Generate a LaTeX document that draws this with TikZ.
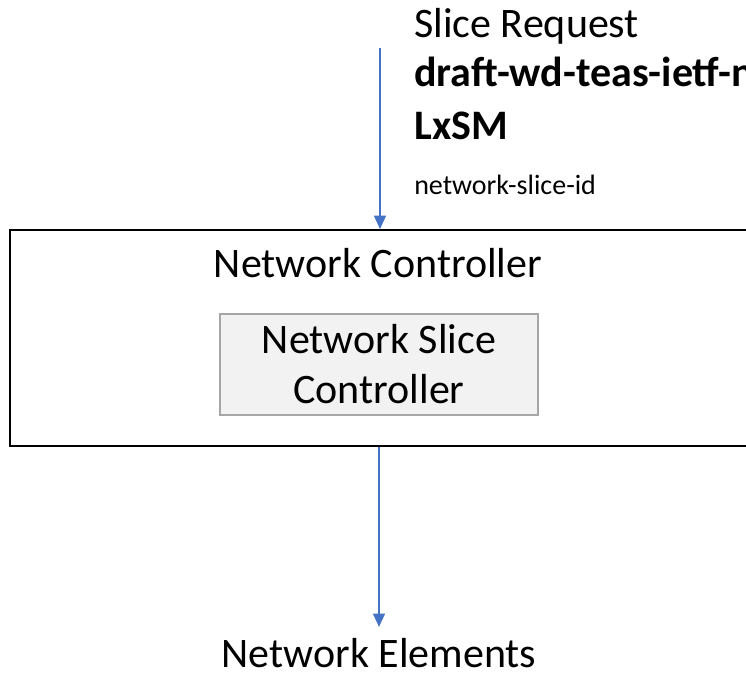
\documentclass[tikz,border=0pt]{standalone}
\usepackage{fontspec}
\setmainfont{Carlito}
\usetikzlibrary{arrows.meta,positioning}
\definecolor{myblue}{RGB}{68,114,196}
\definecolor{mygraypale}{RGB}{242,242,242}
\definecolor{mygray}{RGB}{166,166,166}

\begin{document}
\begin{tikzpicture}[x=0.75pt,y=-0.75pt,
    bigtext/.style={font=\fontsize{31.5}{37.5}\selectfont,inner sep=0pt},
    smalltext/.style={font=\fontsize{21}{25}\selectfont,inner sep=0pt},
    ctrlbox/.style={draw=black,line width=1.5pt,minimum width=577.5pt,minimum height=162pt},
    slicebox/.style={draw=mygray,fill=mygraypale,line width=1.2pt,minimum width=238.5pt,minimum height=75.75pt,
      align=center,font=\fontsize{31.5}{37.5}\selectfont},
    flow/.style={myblue,line width=1pt,-{Triangle[length=10pt,width=9pt]}}]
    \useasboundingbox (0,0) rectangle (746,673);
    \clip (0,0) rectangle (746,673);
    % request labels
    \node[bigtext,anchor=base west] (req) at (414,38) {Slice Request};
    \node[bigtext,anchor=base west,font=\fontsize{31.5}{37.5}\selectfont\bfseries] (draft) at (414,87) {draft-wd-teas-ietf-n};
    \node[bigtext,anchor=base west,font=\fontsize{31.5}{37.5}\selectfont\bfseries] (lxsm) at (414,140) {LxSM};
    \node[smalltext,anchor=base west] (sliceid) at (414,195) {network-slice-id};
    % controller
    \node[ctrlbox] (ctrl) at (395,338) {};
    \node[bigtext,anchor=base] (ctrltitle) at (378,278) {Network Controller};
    \node[slicebox] (nsc) at (379,364.5) {Network Slice\\Controller};
    \node[bigtext,anchor=base] (elems) at (379,667) {Network Elements};
    % arrows
    \coordinate (reqsrc) at (380,48);
    \draw[flow] (reqsrc) -- (reqsrc |- ctrl.north);
    \draw[flow,shorten >=8pt] (ctrl.south -| elems) -- (elems.north);
\end{tikzpicture}
\end{document}
